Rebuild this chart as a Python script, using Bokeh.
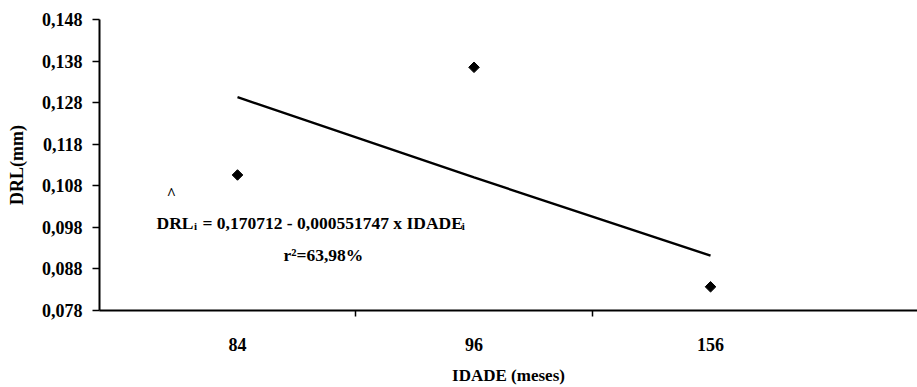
import math
from bokeh.plotting import figure
from bokeh.models import Range1d, FixedTicker, Label
from bokeh.embed import file_html
from bokeh.resources import INLINE
from bokeh.core.properties import value

# ---- data ----
idade_labels = ["84", "96", "156"]          # categories (IDADE, meses)
idade_pos = [1, 2, 3]                        # category slots on the axis
drl_obs = [0.1106, 0.1365, 0.0837]           # observed DRL (mm)
drl_fit = [0.1293, 0.1100, 0.0912]           # fitted line as drawn
y_ticks = [0.078, 0.088, 0.098, 0.108, 0.118, 0.128, 0.138, 0.148]
y_tick_labels = ["0,078", "0,088", "0,098", "0,108", "0,118", "0,128", "0,138", "0,148"]
eq_left = "DRL"
eq_mid = "= 0,170712 - 0,000551747 x IDADE"
eq_sub = "i"
r2_text = "r\u00b2=63,98%"

FONT = "Liberation Serif"

p = figure(width=917, height=387,
           x_range=Range1d(0.4165, 3.875), y_range=Range1d(0.078, 0.148),
           output_backend="svg", toolbar_location=None,
           min_border_left=99, min_border_right=0,
           min_border_top=19, min_border_bottom=76)
p.outline_line_color = None
p.grid.visible = False
p.background_fill_color = "white"
p.border_fill_color = "white"

p.line(idade_pos, drl_fit, line_width=2.4, line_color="black")
p.scatter(idade_pos, drl_obs, marker="square", angle=math.pi / 4, size=7.5,
          fill_color="black", line_color="black")

# x axis
xa = p.xaxis[0]
xa.ticker = FixedTicker(ticks=idade_pos, minor_ticks=[1.5, 2.5])
xa.major_label_overrides = {k: v for k, v in zip(idade_pos, idade_labels)}
xa.major_tick_out = 0
xa.major_tick_in = 0
xa.minor_tick_out = 6
xa.minor_tick_in = 0
xa.minor_tick_line_color = "black"
xa.minor_tick_line_width = 1.5
xa.axis_line_width = 2
xa.axis_line_color = "black"
xa.major_label_standoff = 21
xa.major_label_text_font = FONT
xa.major_label_text_font_style = "bold"
xa.major_label_text_font_size = "18px"
xa.major_label_text_color = "black"
xa.axis_label = "IDADE (meses)"
xa.axis_label_text_font = FONT
xa.axis_label_text_font_style = "bold"
xa.axis_label_text_font_size = "17px"
xa.axis_label_text_color = "black"
xa.axis_label_standoff = 12

# y axis
ya = p.yaxis[0]
ya.ticker = FixedTicker(ticks=y_ticks, minor_ticks=[])
ya.major_label_overrides = {k: v for k, v in zip(y_ticks, y_tick_labels)}
ya.major_tick_out = 7
ya.major_tick_in = 0
ya.major_tick_line_width = 1.5
ya.major_tick_line_color = "black"
ya.minor_tick_out = 0
ya.minor_tick_in = 0
ya.axis_line_width = 2
ya.axis_line_color = "black"
ya.major_label_standoff = 10
ya.major_label_text_font = FONT
ya.major_label_text_font_style = "bold"
ya.major_label_text_font_size = "18px"
ya.major_label_text_color = "black"
ya.axis_label = "DRL(mm)"
ya.axis_label_text_font = FONT
ya.axis_label_text_font_style = "bold"
ya.axis_label_text_font_size = "18px"
ya.axis_label_text_color = "black"
ya.axis_label_standoff = 12

def lab(x, y, text, size, align="left", baseline="alphabetic"):
    p.add_layout(Label(x=x, y=y, text=text, text_font=FONT, text_font_style="bold",
                       text_font_size=size, text_color="black",
                       text_align=align, text_baseline=baseline))

# regression equation
lab(0.814, 0.0991, eq_left, "17.5px", align="right")
lab(0.816, 0.0984, eq_sub, "11px")
lab(0.852, 0.0991, eq_mid, "17.5px")
lab(1.948, 0.0984, eq_sub, "11px")
lab(1.1945, 0.0914, r2_text, "17.5px")
# small caret mark from the original
lab(0.721, 0.1062, "^", "16px", align="center", baseline="middle")

open("out.html", "w").write(file_html(p, INLINE))
